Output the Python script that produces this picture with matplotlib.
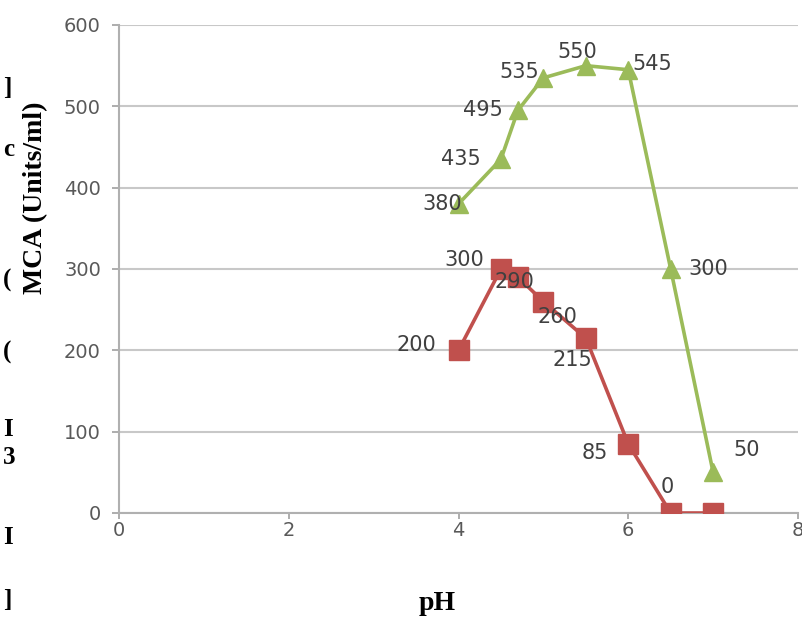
import matplotlib.pyplot as plt

# данные
ph = [4.0, 4.5, 4.7, 5.0, 5.5, 6.0, 6.5, 7.0]
mca_green = [380, 435, 495, 535, 550, 545, 300, 50]
mca_red = [200, 300, 290, 260, 215, 85, 0, 0]

x_ticks = [0, 2, 4, 6, 8]
y_ticks = [0, 100, 200, 300, 400, 500, 600]

# смещения подписей (в пикселях) и выравнивание
green_offsets = [(3, 0, 'right'), (-20, 0, 'right'), (-15, 0, 'right'), (-4, 6, 'right'),
                 (-9, 14, 'center'), (4, 6, 'left'), (18, 0, 'left'), (20, 22, 'left')]
red_offsets = [(-22, 5, 'right'), (-17, 9, 'right'), (-3, -5, 'center'), (-6, -15, 'left'),
               (6, -22, 'right'), (-20, -9, 'right'), (-3, 26, 'center'), (0, 0, None)]

GREEN = '#9BBB59'
RED = '#C0504D'
TXT = '#404040'

fig = plt.figure(figsize=(8.02, 6.26), dpi=100)
ax = fig.add_axes([119 / 802, 1 - 513 / 626, (798 - 119) / 802, (513 - 25) / 626])

ax.plot(ph, mca_green, color=GREEN, lw=2.6, marker='^', ms=13, zorder=3)
ax.plot(ph, mca_red, color=RED, lw=2.6, marker='s', ms=14.5, zorder=3)

for x, y, (dx, dy, ha) in zip(ph, mca_green, green_offsets):
    if ha:
        ax.annotate(str(y), (x, y), xytext=(dx, dy), textcoords='offset pixels',
                    ha=ha, va='center', fontsize=15, color=TXT, zorder=4)
for x, y, (dx, dy, ha) in zip(ph, mca_red, red_offsets):
    if ha:
        ax.annotate(str(y), (x, y), xytext=(dx, dy), textcoords='offset pixels',
                    ha=ha, va='center', fontsize=15, color=TXT, zorder=4)

ax.set_xlim(0, 8)
ax.set_ylim(0, 600)
ax.set_xticks(x_ticks)
ax.set_yticks(y_ticks)
ax.tick_params(axis='both', colors='#A0A0A0', labelcolor='#595959', labelsize=14,
               length=5, width=1.2, direction='out')
ax.tick_params(axis='x', pad=1, length=4.5)
ax.tick_params(axis='y', pad=8)
ax.yaxis.grid(True, color='#C8C8C8', lw=1.5)
ax.set_axisbelow(True)
for s in ['top', 'right']:
    ax.spines[s].set_visible(False)
for s in ['left', 'bottom']:
    ax.spines[s].set_color('#B0B0B0')
    ax.spines[s].set_linewidth(1.5)

fig.text(437 / 802, 1 - 604 / 626, 'pH', family='Liberation Serif', weight='bold',
         fontsize=20, ha='center', va='center')
fig.text(36 / 802, 1 - 198 / 626, 'MCA (Units/ml)', family='Liberation Serif', weight='bold',
         fontsize=20, rotation=90, ha='center', va='center')

# обрезки текста слева на картинке
for ch, yy in [(']', 88), ('c', 150), ('(', 280), ('(', 352), ('I', 430),
               ('3', 458), ('I', 538), (']', 600)]:
    fig.text(3 / 802, 1 - yy / 626, ch, family='Liberation Serif', weight='bold',
             fontsize=18, ha='left', va='center')

fig.savefig('out.png', dpi=100)
